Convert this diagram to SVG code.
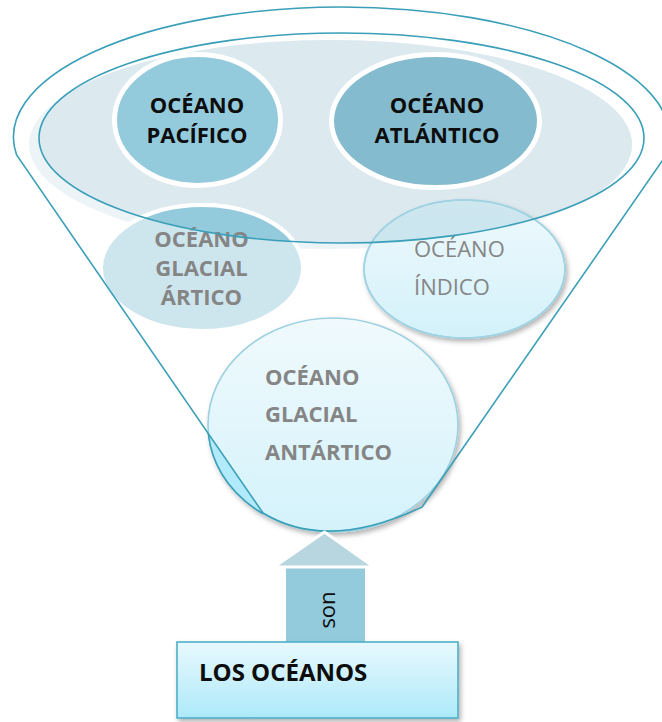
<svg xmlns="http://www.w3.org/2000/svg" width="662" height="722" viewBox="0 0 662 722">
<style>
.b{font-family:"Open Sans","Liberation Sans",sans-serif;font-weight:bold;font-size:22px}
.r{font-family:"Open Sans","Liberation Sans",sans-serif;font-size:22px}
.blk{fill:#0d0d0d}
.gr{fill:#858585}
.line{fill:none;stroke:#3a9fb8;stroke-width:1.6}
</style>
<defs>
<clipPath id="inner"><ellipse cx="341.5" cy="138" rx="302.5" ry="105"/></clipPath>
<clipPath id="leftOut"><polygon points="0,150 17,158 263,513 263,600 0,600"/></clipPath>
<clipPath id="indClip"><ellipse cx="464.5" cy="269" rx="100.5" ry="69"/></clipPath>
<linearGradient id="gInd" x1="0" y1="0" x2="0" y2="1"><stop offset="0" stop-color="#eef9fd"/><stop offset="1" stop-color="#d3f1fa"/></linearGradient>
<linearGradient id="gAnt" x1="0" y1="0" x2="0" y2="1"><stop offset="0" stop-color="#f0fafd"/><stop offset="1" stop-color="#d4f2fb"/></linearGradient>
<linearGradient id="gBox" x1="0" y1="0" x2="0" y2="1"><stop offset="0" stop-color="#e8f9fe"/><stop offset="1" stop-color="#ade9f9"/></linearGradient>
<filter id="sh" x="-10%" y="-10%" width="125%" height="130%"><feDropShadow dx="2" dy="3" stdDeviation="2.5" flood-color="#000" flood-opacity="0.3"/></filter>
</defs>

<g id="top-band">
<ellipse cx="330.5" cy="144.5" rx="301.5" ry="104.5" fill="#edf4f8"/>
<ellipse cx="330.5" cy="144.5" rx="301.5" ry="104.5" fill="#dce9ef" clip-path="url(#inner)"/>
</g>

<g id="pacifico">
<ellipse cx="197.5" cy="120" rx="83" ry="65.5" fill="#94cbdc" stroke="#ffffff" stroke-width="5"/>
<text class="b blk" x="197" y="113" text-anchor="middle">OCÉANO</text>
<text class="b blk" x="197" y="143" text-anchor="middle">PACÍFICO</text>
</g>

<g id="atlantico">
<ellipse cx="435.5" cy="121" rx="104" ry="66.5" fill="#85bbce" stroke="#ffffff" stroke-width="5"/>
<text class="b blk" x="437" y="113" text-anchor="middle">OCÉANO</text>
<text class="b blk" x="437" y="143" text-anchor="middle">ATLÁNTICO</text>
</g>

<g id="artico">
<ellipse cx="202" cy="268" rx="101" ry="63" fill="#cde6ee" stroke="#ffffff" stroke-width="4"/>
<ellipse cx="202" cy="268" rx="101" ry="63" fill="#94cbdc" stroke="#ffffff" stroke-width="4" clip-path="url(#inner)"/>
<text class="b gr" x="201.5" y="247" text-anchor="middle">OCÉANO</text>
<text class="b gr" x="201.5" y="276" text-anchor="middle">GLACIAL</text>
<text class="b gr" x="201.5" y="305" text-anchor="middle">ÁRTICO</text>
</g>

<g id="indico">
<ellipse cx="464.5" cy="269" rx="100.5" ry="69" fill="url(#gInd)" stroke="#9fd2e2" stroke-width="1.6" filter="url(#sh)"/>
<g clip-path="url(#indClip)"><ellipse cx="330.5" cy="144.5" rx="301.5" ry="104.5" fill="#a9d0dd" opacity="0.45" clip-path="url(#inner)"/></g>
<ellipse cx="464.5" cy="269" rx="100.5" ry="69" fill="none" stroke="#9fd2e2" stroke-width="1.6"/>
<text class="r gr" x="414" y="257">OCÉANO</text>
<text class="r gr" x="414" y="295">ÍNDICO</text>
</g>

<g id="antartico">
<ellipse cx="333" cy="425" rx="125" ry="107" fill="url(#gAnt)" stroke="#9dd0e0" stroke-width="1.6" filter="url(#sh)"/>
<ellipse cx="333" cy="425" rx="125" ry="107" fill="#b1eafa" stroke="#3a9fb8" stroke-width="1.6" clip-path="url(#leftOut)"/>
<text class="b gr" x="265" y="385">OCÉANO</text>
<text class="b gr" x="265" y="422">GLACIAL</text>
<text class="b gr" x="265" y="460">ANTÁRTICO</text>
</g>

<g id="funnel">
<ellipse class="line" cx="341.5" cy="138" rx="302.5" ry="105"/>
<path class="line" d="M 16.6 155 A 328 130 0 1 1 666.3 155 L 422 507 Q 327 552 263 513 Z"/>
</g>

<g id="connectors">
<rect x="286" y="567" width="79" height="76" fill="#94cbdc"/>
<polygon points="274,567 374,567 324.5,532" fill="#b7d6e0" stroke="#ffffff" stroke-width="3" stroke-linejoin="miter"/>
<text class="r blk" transform="translate(335 610) rotate(-90)" text-anchor="middle">son</text>
</g>

<g id="los-oceanos">
<rect x="177" y="642" width="281" height="76" fill="url(#gBox)" stroke="#4db0c8" stroke-width="1.6" filter="url(#sh)"/>
<text class="b blk" x="199" y="681" style="font-size:24px">LOS OCÉANOS</text>
</g>
</svg>
